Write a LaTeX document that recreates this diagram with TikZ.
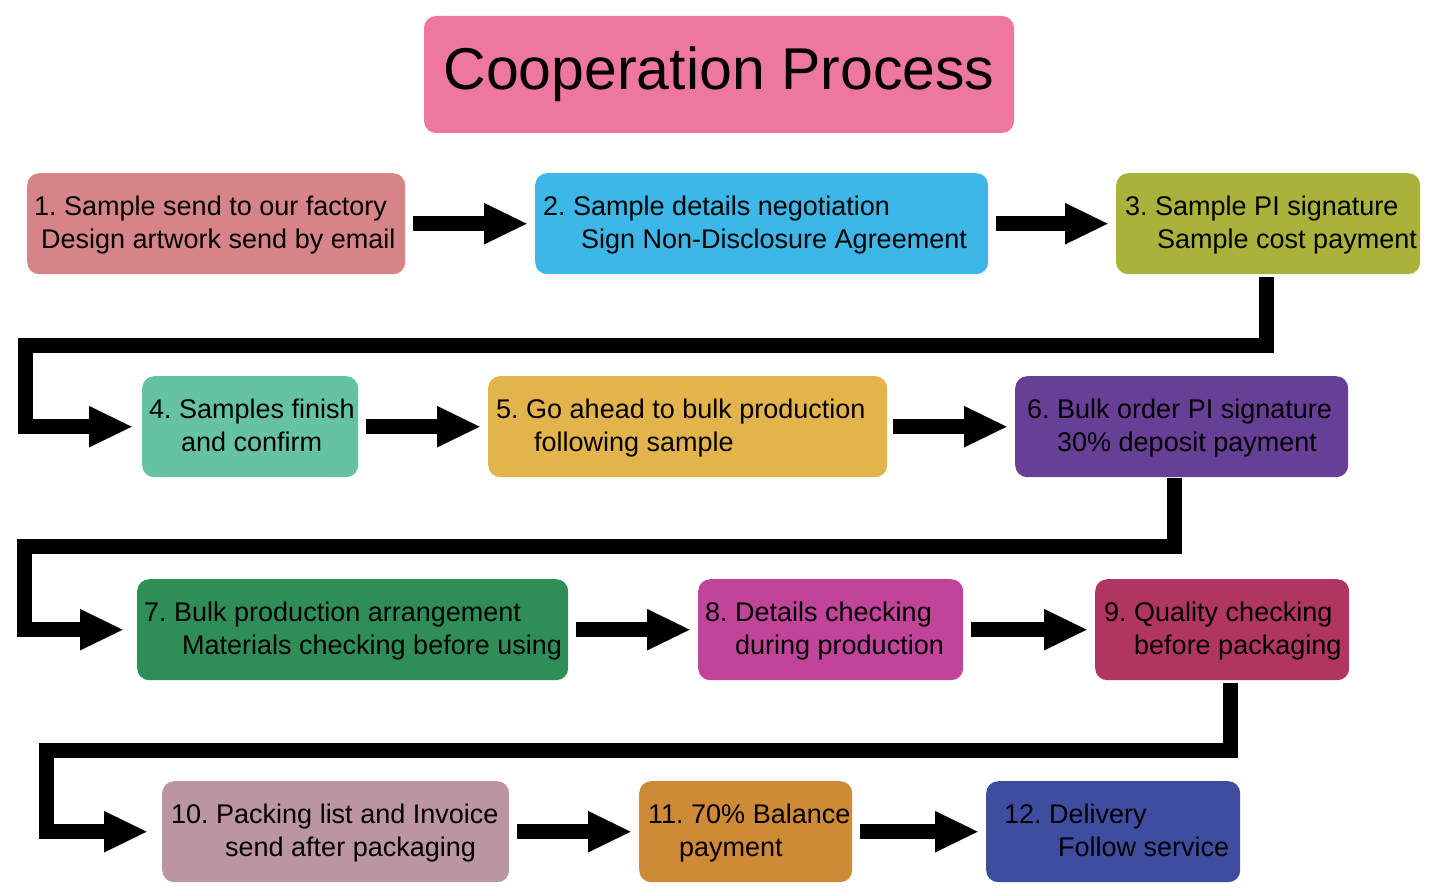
\documentclass[tikz,border=0pt]{standalone}
\usepackage{fontspec}
\setmainfont{Liberation Sans}
\usetikzlibrary{arrows.meta}
\frenchspacing
\definecolor{ctitle}{HTML}{EE77A1}
\definecolor{c1}{HTML}{D68487}
\definecolor{c2}{HTML}{3DB6E8}
\definecolor{c3}{HTML}{A9B23A}
\definecolor{c4}{HTML}{66C2A5}
\definecolor{c5}{HTML}{E3B44B}
\definecolor{c6}{HTML}{673F97}
\definecolor{c7}{HTML}{2F8E58}
\definecolor{c8}{HTML}{C1449A}
\definecolor{c9}{HTML}{B03562}
\definecolor{c10}{HTML}{BB95A3}
\definecolor{c11}{HTML}{CF8A38}
\definecolor{c12}{HTML}{3F4DA0}
\tikzset{
  stepbox/.style={rounded corners=12pt, draw=none, inner sep=0pt, anchor=north west},
  steptext/.style={anchor=base west, inner sep=0pt, font=\fontsize{27}{33}\selectfont\frenchspacing},
  flow/.style={line width=15pt, line join=miter, -{Triangle[length=44pt, width=38pt]}}
}
\begin{document}
\begin{tikzpicture}[x=1pt, y=-1pt]
\useasboundingbox (0,0) rectangle (1440,896);
% title
\node[rounded corners=12pt, fill=ctitle, minimum width=590pt, minimum height=117pt, inner sep=0pt,
      font=\fontsize{59}{70}\selectfont] (T) at (719,74.5) {Cooperation Process};
% boxes
\node[stepbox, fill=c1, minimum width=378pt, minimum height=101pt] (b1) at (27,173) {};
\node[stepbox, fill=c2, minimum width=453pt, minimum height=101pt] (b2) at (535,173) {};
\node[stepbox, fill=c3, minimum width=304pt, minimum height=101pt] (b3) at (1116,173) {};
\node[stepbox, fill=c4, minimum width=216pt, minimum height=101pt] (b4) at (142,376) {};
\node[stepbox, fill=c5, minimum width=399pt, minimum height=101pt] (b5) at (488,376) {};
\node[stepbox, fill=c6, minimum width=333pt, minimum height=101pt] (b6) at (1015,376) {};
\node[stepbox, fill=c7, minimum width=431pt, minimum height=101pt] (b7) at (137,579) {};
\node[stepbox, fill=c8, minimum width=265pt, minimum height=101pt] (b8) at (698,579) {};
\node[stepbox, fill=c9, minimum width=254pt, minimum height=101pt] (b9) at (1095,579) {};
\node[stepbox, fill=c10, minimum width=347pt, minimum height=101pt] (b10) at (162,781) {};
\node[stepbox, fill=c11, minimum width=213pt, minimum height=101pt] (b11) at (639,781) {};
\node[stepbox, fill=c12, minimum width=254pt, minimum height=101pt] (b12) at (986,781) {};
% texts
\node[steptext] (t1a) at (34,215) {1. Sample send to our factory};
\node[steptext] (t1b) at (41,248) {Design artwork send by email};
\node[steptext] (t2a) at (543,215) {2. Sample details negotiation};
\node[steptext] (t2b) at (581,248) {Sign Non-Disclosure Agreement};
\node[steptext] (t3a) at (1125,215) {3. Sample PI signature};
\node[steptext] (t3b) at (1157,248) {Sample cost payment};
\node[steptext] (t4a) at (149,418) {4. Samples finish};
\node[steptext] (t4b) at (181,451) {and confirm};
\node[steptext] (t5a) at (496,418) {5. Go ahead to bulk production};
\node[steptext] (t5b) at (534,451) {following sample};
\node[steptext] (t6a) at (1027,418) {6. Bulk order PI signature};
\node[steptext] (t6b) at (1057,451) {30\% deposit payment};
\node[steptext] (t7a) at (144,621) {7. Bulk production arrangement};
\node[steptext] (t7b) at (182,654) {Materials checking before using};
\node[steptext] (t8a) at (705,621) {8. Details checking};
\node[steptext] (t8b) at (735,654) {during production};
\node[steptext] (t9a) at (1104,621) {9. Quality checking};
\node[steptext] (t9b) at (1134,654) {before packaging};
\node[steptext] (t10a) at (171,823) {10. Packing list and Invoice};
\node[steptext] (t10b) at (225,856) {send after packaging};
\node[steptext] (t11a) at (648,823) {11. 70\% Balance};
\node[steptext] (t11b) at (679,856) {payment};
\node[steptext] (t12a) at (1004,823) {12. Delivery};
\node[steptext] (t12b) at (1058,856) {Follow service};
% corner coordinates
\coordinate (k1) at (25,345);
\coordinate (k2) at (24,546);
\coordinate (k3) at (46,750.5);
% row arrows
\draw[flow, shorten <=8pt, shorten >=7pt] (b1.east) -- (b2.west);
\draw[flow, shorten <=8pt, shorten >=7pt] (b2.east) -- (b3.west);
\draw[flow, shorten <=8pt, shorten >=7pt] (b4.east) -- (b5.west);
\draw[flow, shorten <=6pt, shorten >=7pt] (b5.east) -- (b6.west);
\draw[flow, shorten <=8pt, shorten >=7pt] (b7.east) -- (b8.west);
\draw[flow, shorten <=8pt, shorten >=7pt] (b8.east) -- (b9.west);
\draw[flow, shorten <=8pt, shorten >=7pt] (b10.east) -- (b11.west);
\draw[flow, shorten <=8pt, shorten >=7pt] (b11.east) -- (b12.west);
% turn connectors
\draw[flow, shorten <=3pt, shorten >=9pt] ([xshift=-2pt]b3.south) |- (k1) |- (b4.west);
\draw[flow, shorten <=1pt, shorten >=13pt] ([xshift=-7.5pt]b6.south) |- (k2) |- (b7.west);
\draw[flow, shorten <=3pt, shorten >=14pt] ([xshift=8pt]b9.south) |- (k3) |- (b10.west);
\end{tikzpicture}
\end{document}
